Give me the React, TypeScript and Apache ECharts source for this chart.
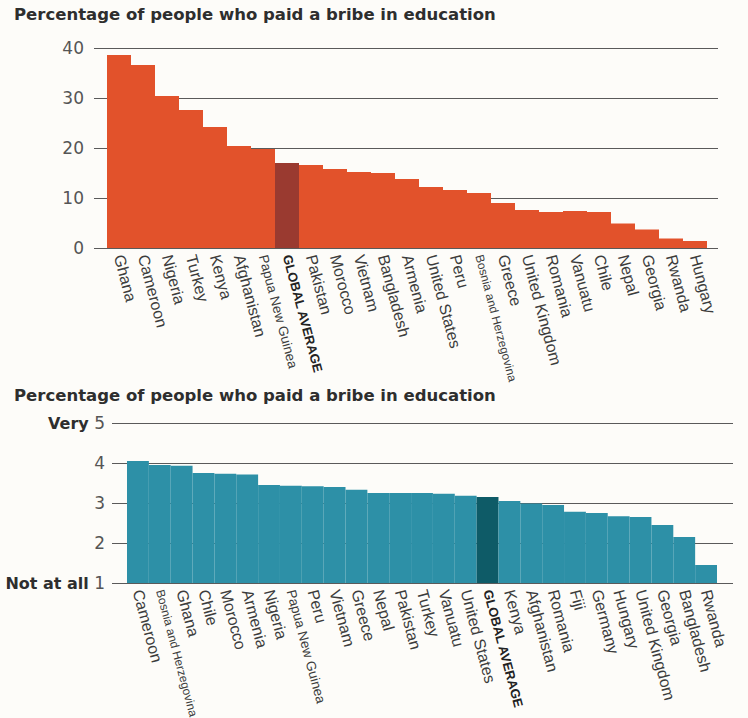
import React, { useEffect, useRef } from 'react';
import * as echarts from 'echarts';

const titleText = 'Percentage of people who paid a bribe in education';

const topCountries = [
  'Ghana', 'Cameroon', 'Nigeria', 'Turkey', 'Kenya', 'Afghanistan', 'Papua New Guinea',
  'GLOBAL AVERAGE', 'Pakistan', 'Morocco', 'Vietnam', 'Bangladesh', 'Armenia',
  'United States', 'Peru', 'Bosnia and Herzegovina', 'Greece', 'United Kingdom',
  'Romania', 'Vanuatu', 'Chile', 'Nepal', 'Georgia', 'Rwanda', 'Hungary',
];
const topValues = [
  38.6, 36.6, 30.4, 27.6, 24.2, 20.4, 19.8,
  17.0, 16.6, 15.8, 15.2, 15.0, 13.8,
  12.2, 11.6, 11.0, 9.0, 7.6,
  7.2, 7.4, 7.2, 4.9, 3.7, 1.9, 1.4,
];
const topTicks = { min: 0, max: 40, interval: 10 };

const bottomCountries = [
  'Cameroon', 'Bosnia and Herzegovina', 'Ghana', 'Chile', 'Morocco', 'Armenia',
  'Nigeria', 'Papua New Guinea', 'Peru', 'Vietnam', 'Greece', 'Nepal', 'Pakistan',
  'Turkey', 'Vanuatu', 'United States', 'GLOBAL AVERAGE', 'Kenya', 'Afghanistan',
  'Romania', 'Fiji', 'Germany', 'Hungary', 'United Kingdom', 'Georgia',
  'Bangladesh', 'Rwanda',
];
const bottomValues = [
  4.05, 3.95, 3.93, 3.75, 3.73, 3.71,
  3.45, 3.43, 3.42, 3.4, 3.33, 3.25, 3.25,
  3.25, 3.23, 3.18, 3.15, 3.05, 2.99,
  2.95, 2.78, 2.75, 2.67, 2.65, 2.45,
  2.15, 1.45,
];
const bottomTicks = { min: 1, max: 5, interval: 1 };
const bottomTickNames: Record<number, string> = { 5: 'Very', 1: 'Not at all' };

const AVG = 'GLOBAL AVERAGE';
const FONT = '"Liberation Sans", Arial, sans-serif';
const WIDE = '"DejaVu Sans", "Liberation Sans", sans-serif';

const RED = '#e2522b';
const RED_DARK = '#9a3a30';
const TEAL = '#2d90a7';
const TEAL_DARK = '#0e5b67';

function catLabel(v: string) {
  if (v === AVG) return '{g|' + v + '}';
  if (v === 'Bosnia and Herzegovina') return '{s|' + v + '}';
  if (v === 'Papua New Guinea') return '{p|' + v + '}';
  return v;
}

const catAxisLabel = {
  interval: 0,
  rotate: -75,
  margin: 7,
  color: '#3c3c3c',
  fontSize: 16,
  fontFamily: FONT,
  formatter: catLabel,
  rich: {
    g: { fontWeight: 'bold', fontSize: 13, fontFamily: FONT, color: '#222' },
    s: { fontSize: 12, fontFamily: FONT, color: '#3c3c3c' },
    p: { fontSize: 13.5, fontFamily: FONT, color: '#3c3c3c' },
  },
};

export default function App() {
  const ref = useRef<HTMLDivElement>(null);
  useEffect(() => {
    document.body.style.margin = '0';
    const chart = echarts.init(ref.current!, null, { renderer: 'svg' });
    const gridLine = { show: true, lineStyle: { color: '#5a5a5a', width: 1 } };
    const titleStyle = { fontFamily: WIDE, fontSize: 16.5, fontWeight: 'bold', color: '#2e2e2e' };
    chart.setOption({
      animation: false,
      backgroundColor: '#fdfcf9',
      title: [
        { text: titleText, left: 14, top: 6, padding: 0, textStyle: titleStyle },
        { text: titleText, left: 14, top: 387, padding: 0, textStyle: titleStyle },
      ],
      grid: [
        { left: 94, right: 30, top: 48, height: 200, outerBoundsMode: 'none' },
        { left: 107, right: 41, top: 48, height: 200, outerBoundsMode: 'none' },
        { left: 112, right: 15, top: 423, height: 160, outerBoundsMode: 'none' },
        { left: 127, right: 31, top: 423, height: 160, outerBoundsMode: 'none' },
      ],
      xAxis: [
        { type: 'value', gridIndex: 0, show: false, min: 0, max: 1 },
        {
          type: 'category', gridIndex: 1, data: topCountries,
          axisLine: { show: false }, axisTick: { show: false },
          axisLabel: catAxisLabel,
        },
        { type: 'value', gridIndex: 2, show: false, min: 0, max: 1 },
        {
          type: 'category', gridIndex: 3, data: bottomCountries,
          axisLine: { show: false }, axisTick: { show: false },
          axisLabel: catAxisLabel,
        },
      ],
      yAxis: [
        {
          type: 'value', gridIndex: 0, ...topTicks,
          axisLine: { show: false }, axisTick: { show: false },
          splitLine: gridLine,
          axisLabel: { margin: 10, color: '#555', fontSize: 17, fontFamily: WIDE },
        },
        { type: 'value', gridIndex: 1, ...topTicks, show: false, splitLine: { show: false } },
        {
          type: 'value', gridIndex: 2, ...bottomTicks,
          axisLine: { show: false }, axisTick: { show: false },
          splitLine: gridLine,
          axisLabel: {
            margin: 7, color: '#555', fontSize: 17, fontFamily: WIDE,
            formatter: (v: number) => (bottomTickNames[v] ? '{b|' + bottomTickNames[v] + '} ' + v : String(v)),
            rich: { b: { fontWeight: 'bold', fontSize: 16, fontFamily: WIDE, color: '#2e2e2e' } },
          },
        },
        { type: 'value', gridIndex: 3, ...bottomTicks, show: false, splitLine: { show: false } },
      ],
      series: [
        {
          type: 'bar', xAxisIndex: 1, yAxisIndex: 1,
          barCategoryGap: '0%',
          data: topValues.map((v, i) => ({
            value: v,
            itemStyle: { color: topCountries[i] === AVG ? RED_DARK : RED },
          })),
        },
        {
          type: 'bar', xAxisIndex: 3, yAxisIndex: 3,
          barCategoryGap: '0%',
          data: bottomValues.map((v, i) => ({
            value: v,
            itemStyle: { color: bottomCountries[i] === AVG ? TEAL_DARK : TEAL },
          })),
        },
      ],
    });
    return () => chart.dispose();
  }, []);
  return <div ref={ref} style={{ width: 748, height: 718 }} />;
}
